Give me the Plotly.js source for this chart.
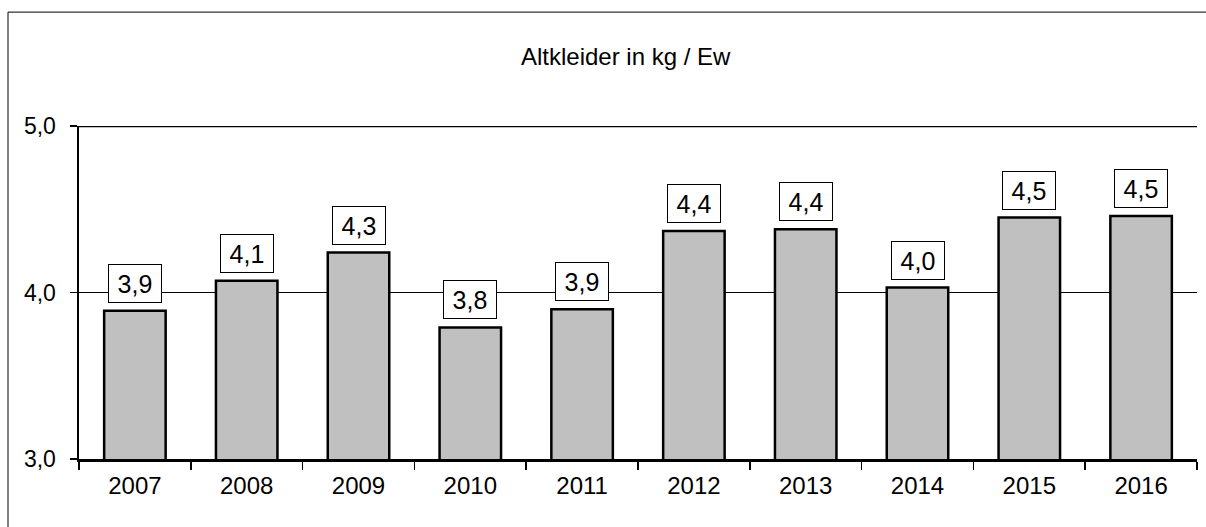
<!DOCTYPE html>
<html>
<head>
<meta charset="utf-8">
<script src="https://cdn.plot.ly/plotly-3.0.1.min.js"></script>
<style>
  html, body { margin: 0; padding: 0; background: #fff; }
  #chart { width: 1206px; height: 527px; }
</style>
</head>
<body>
<div id="chart"></div>
<script>
// Altkleider je Einwohner (kg)
const years = ['2007', '2008', '2009', '2010', '2011', '2012', '2013', '2014', '2015', '2016'];
const kgPerEw = [3.89, 4.07, 4.24, 3.79, 3.90, 4.37, 4.38, 4.03, 4.45, 4.46];
const valueLabels = ['3,9', '4,1', '4,3', '3,8', '3,9', '4,4', '4,4', '4,0', '4,5', '4,5'];
const yTicks = [3, 4, 5];
const yTickText = ['3,0', '4,0', '5,0'];

const font = 'Liberation Sans, Arial, sans-serif';

const bars = {
    type: 'bar',
    x: years,
    y: kgPerEw,
    width: 0.55,
    marker: { color: '#c0c0c0', line: { color: '#000', width: 2.5 } },
    hoverinfo: 'x+y'
};

// Beschriftungskästchen über den Balken (x = Index der Kategorie)
const labels = years.map((yr, i) => ({
    x: i,
    y: kgPerEw[i],
    xref: 'x',
    yref: 'y',
    text: valueLabels[i],
    showarrow: false,
    yanchor: 'bottom',
    yshift: 8,
    width: 48,
    height: 33,
    borderpad: 2,
    bgcolor: '#fff',
    bordercolor: '#000',
    borderwidth: 1,
    font: { family: font, size: 25, color: '#000' }
}));

const layout = {
    width: 1206,
    height: 527,
    margin: { l: 79, r: 9, t: 126, b: 68 },
    paper_bgcolor: '#fff',
    plot_bgcolor: '#fff',
    showlegend: false,
    title: {
        text: 'Altkleider in kg / Ew',
        font: { family: font, size: 24, color: '#000' },
        x: 0.489,
        xref: 'paper',
        xanchor: 'center',
        y: 0.892,
        yref: 'container',
        yanchor: 'middle'
    },
    xaxis: {
        type: 'category',
        range: [-0.5, years.length - 0.5],
        tickson: 'boundaries',
        ticks: 'outside',
        ticklen: 8,
        tickwidth: 1.5,
        tickcolor: '#000',
        showline: true,
        linecolor: '#000',
        linewidth: 2.5,
        showgrid: false,
        tickfont: { family: font, size: 24, color: '#000' },
        ticklabelstandoff: 4,
        fixedrange: true
    },
    yaxis: {
        range: [3, 5],
        tickvals: yTicks,
        ticktext: yTickText,
        ticks: 'outside',
        ticklen: 7,
        tickwidth: 1.5,
        tickcolor: '#000',
        showline: true,
        linecolor: '#000',
        linewidth: 2.5,
        showgrid: true,
        gridcolor: '#000',
        gridwidth: 1,
        zeroline: false,
        tickfont: { family: font, size: 23, color: '#000' },
        ticklabelstandoff: 9,
        fixedrange: true
    },
    annotations: labels,
    shapes: [
        // obere Linie bei 5,0 (dicker)
        { type: 'line', xref: 'paper', yref: 'y', x0: 0, x1: 1, y0: 5, y1: 5,
          line: { color: '#000', width: 2.5 } },
        // Rahmen um das Diagramm
        { type: 'rect', xref: 'paper', yref: 'paper', x0: -0.0635, x1: 1.03, y0: -0.3, y1: 1.342,
          line: { color: '#000', width: 1 }, layer: 'below' }
    ]
};

Plotly.newPlot('chart', [bars], layout, { displayModeBar: false, staticPlot: true });
</script>
</body>
</html>
